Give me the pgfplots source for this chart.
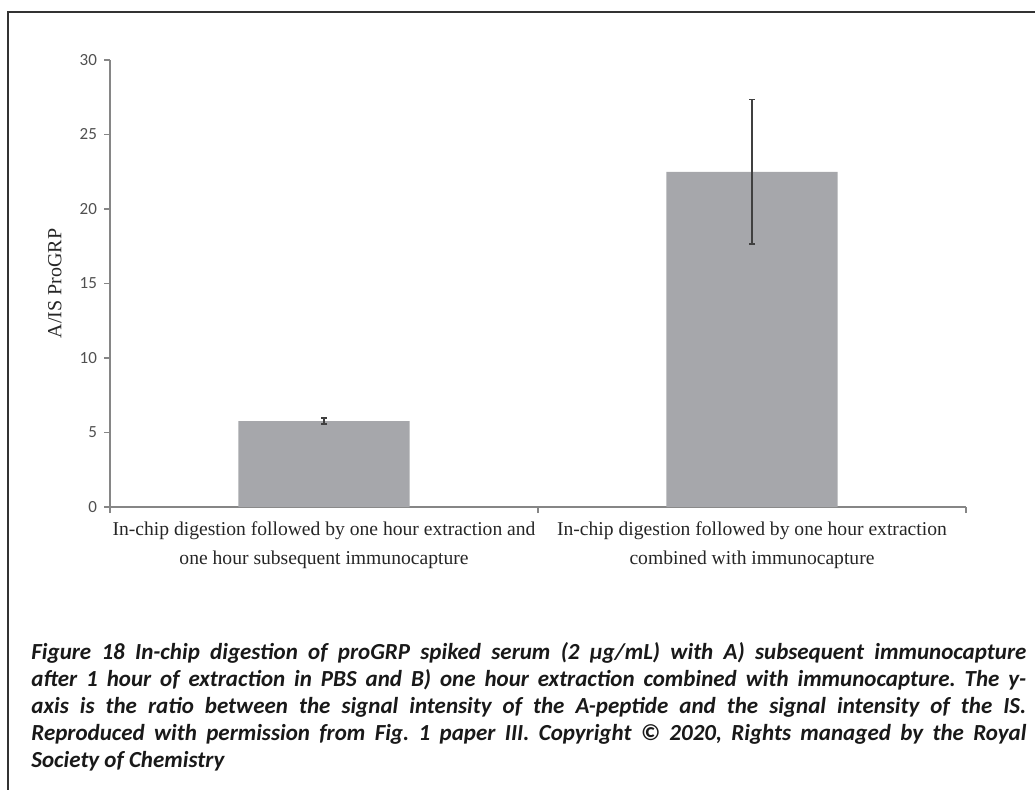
\documentclass[border=0pt]{standalone}
\usepackage{fontspec}
\setmainfont{Liberation Serif}
\newfontfamily\carlito{Carlito}
\usepackage{pgfplots}
\pgfplotsset{compat=1.18}
\definecolor{barc}{RGB}{166,167,171}
\definecolor{axc}{RGB}{134,134,134}
\definecolor{tickc}{RGB}{80,80,80}
\definecolor{errc}{RGB}{64,64,64}
\begin{document}
\frenchspacing
\begin{tikzpicture}
\path[use as bounding box] (0,0) rectangle (517.5pt,-394.5pt);
\draw[line width=0.8pt, black!80] (4pt,-400pt) -- (4pt,-6pt) -- (520pt,-6pt);
\begin{axis}[
  at={(55pt,-253.5pt)}, anchor=south west, scale only axis,
  width=428pt, height=223.5pt,
  xmin=-0.5, xmax=1.5, ymin=0, ymax=30,
  axis x line=bottom, axis y line=left,
  axis line style={draw=axc, line width=0.6pt, -},
  /pgf/number format/assume math mode=true,
  ytick={0,5,...,30},
  yticklabel style={font=\carlito\fontsize{8.5}{9}\selectfont, text=tickc},
  ytick style={draw=axc, line width=0.6pt},
  tick align=outside, major tick length=3pt,
  xtick={-0.5,0.5,1.5}, xticklabels={},
  xtick style={draw=axc, line width=0.6pt},
  extra x ticks={0,1},
  extra x tick labels={{In-chip digestion followed by one hour extraction and\\one hour subsequent immunocapture},{In-chip digestion followed by one hour extraction\\combined with immunocapture}},
  extra x tick style={major tick length=0pt, xticklabel style={align=center, yshift=-4pt, font=\fontsize{9.8}{14.5}\selectfont, text=black!85}},
  ylabel={A/IS ProGRP},
  ylabel style={at={(axis description cs:-0.0643,0.5)}, anchor=center, font=\fontsize{10}{12}\selectfont, text=black!85},
]
\addplot[ybar, bar width=0.4, fill=barc, draw=none,
  error bars/.cd, y dir=both, y explicit,
  error bar style={errc, line width=0.6pt},
  error mark options={rotate=90, mark size=1.5pt, line width=0.6pt, errc}]
  coordinates {(0,5.77) +- (0,0.2) (1,22.5) +- (0,4.85)};
\end{axis}
\node[anchor=north west, text width=497.5pt, align=justify, inner sep=0pt,
  font=\carlito\bfseries\itshape\fontsize{11.5}{13.5}\selectfont, text=black!90]
  at (15.5pt,-321pt) {Figure 18 In-chip digestion of proGRP spiked serum (2 µg/mL) with A) subsequent immunocapture\linebreak after 1 hour of extraction in PBS and B) one hour extraction combined with immunocapture. The y-\linebreak axis is the ratio between the signal intensity of the A-peptide and the signal intensity of the IS.\linebreak Reproduced with permission from Fig. 1 paper III. Copyright © 2020, Rights managed by the Royal\linebreak Society of Chemistry};
\end{tikzpicture}
\end{document}
